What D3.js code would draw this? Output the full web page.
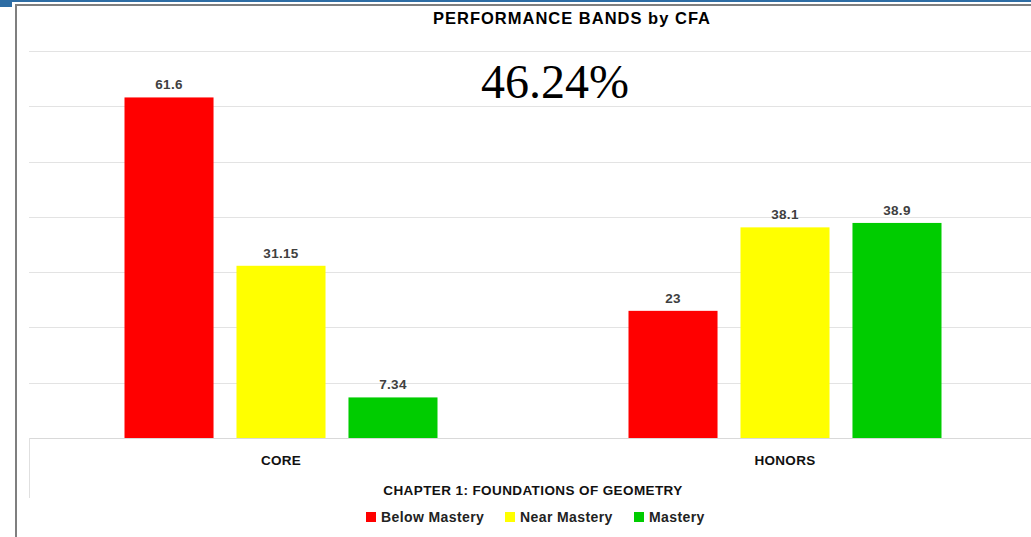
<!DOCTYPE html>
<html>
<head>
<meta charset="utf-8">
<script src="https://cdn.jsdelivr.net/npm/d3@7"></script>
<style>
  body { margin: 0; background: #fff; }
  svg { display: block; font-family: "Liberation Sans", Arial, sans-serif; }
</style>
</head>
<body>
<div id="chart"></div>
<script>
// Chart data
const categories = ["CORE", "HONORS"];
const series = ["Below Mastery", "Near Mastery", "Mastery"];
const belowMastery = [61.6, 23];
const nearMastery = [31.15, 38.1];
const mastery = [7.34, 38.9];
const yTicks = [0, 10, 20, 30, 40, 50, 60, 70];
const colors = ["#ff0000", "#ffff00", "#00cc00"];

const title = "PERFORMANCE BANDS by CFA";
const bigLabel = "46.24%";
const xTitle = "CHAPTER 1: FOUNDATIONS OF GEOMETRY";

const values = [belowMastery, nearMastery, mastery];
const data = [];
categories.forEach((c, i) => {
    series.forEach((s, j) => data.push({cat: c, series: s, value: values[j][i]}));
});

const width = 1031, height = 537;

const svg = d3.select("#chart")
    .append("svg")
    .attr("width", width)
    .attr("height", height);

// Outer frame: blue strip and grey border
svg.append("rect").attr("x", 0).attr("y", 0).attr("width", width).attr("height", 2).attr("fill", "#2e6da4");
svg.append("rect").attr("x", 0).attr("y", 0).attr("width", 12).attr("height", 7).attr("fill", "#2e6da4");
svg.append("path")
    .attr("d", `M16,${height} V5 H${width}`)
    .attr("fill", "none")
    .attr("stroke", "#7f7f7f")
    .attr("stroke-width", 2);

// Scales
const x0 = d3.scaleBand()
    .domain(categories)
    .range([29, 1037])
    .padding(0);

const x1 = d3.scaleBand()
    .domain(series)
    .range([95.5, 408.5])
    .paddingInner(0.205)
    .paddingOuter(0);

const y = d3.scaleLinear()
    .domain([0, 70])
    .range([438, 51]);

const color = d3.scaleOrdinal().domain(series).range(colors);

// Gridlines
svg.append("g")
    .selectAll("line")
    .data(yTicks)
    .enter()
    .append("line")
    .attr("x1", 29).attr("x2", width)
    .attr("y1", d => Math.round(y(d)) + 0.5).attr("y2", d => Math.round(y(d)) + 0.5)
    .attr("stroke", d => d === 0 ? "#d9d9d9" : "#e3e3e3")
    .attr("stroke-width", 1);

// Category axis left edge
svg.append("line")
    .attr("x1", 29.5).attr("x2", 29.5)
    .attr("y1", 438).attr("y2", 498)
    .attr("stroke", "#e0e0e0");

// Bars
svg.selectAll(".bar")
    .data(data)
    .enter()
    .append("rect")
    .attr("class", "bar")
    .attr("x", d => x0(d.cat) + x1(d.series))
    .attr("y", d => y(d.value))
    .attr("width", x1.bandwidth())
    .attr("height", d => y(0) - y(d.value))
    .attr("fill", d => color(d.series));

// Value labels
svg.selectAll(".val")
    .data(data)
    .enter()
    .append("text")
    .attr("class", "val")
    .attr("x", d => x0(d.cat) + x1(d.series) + x1.bandwidth() / 2)
    .attr("y", d => y(d.value) - 8)
    .attr("text-anchor", "middle")
    .attr("font-size", 13.5)
    .attr("font-weight", "bold")
    .attr("letter-spacing", 0.3)
    .attr("fill", "#404040")
    .text(d => d.value);

// Category labels
svg.selectAll(".cat")
    .data(categories)
    .enter()
    .append("text")
    .attr("x", d => x0(d) + x0.bandwidth() / 2)
    .attr("y", 465)
    .attr("text-anchor", "middle")
    .attr("font-size", 13.5)
    .attr("font-weight", "bold")
    .attr("letter-spacing", 0.3)
    .attr("fill", "#111")
    .text(d => d);

// Title
svg.append("text")
    .attr("x", 572)
    .attr("y", 24)
    .attr("text-anchor", "middle")
    .attr("font-size", 16.5)
    .attr("font-weight", "bold")
    .attr("letter-spacing", 1)
    .attr("fill", "#000")
    .text(title);

// Big percentage
svg.append("text")
    .attr("x", 555)
    .attr("y", 98)
    .attr("text-anchor", "middle")
    .attr("font-family", "'Liberation Serif', 'Times New Roman', serif")
    .attr("font-size", 48)
    .attr("fill", "#000")
    .text(bigLabel);

// X axis title
svg.append("text")
    .attr("x", 533)
    .attr("y", 495)
    .attr("text-anchor", "middle")
    .attr("font-size", 13.5)
    .attr("font-weight", "bold")
    .attr("letter-spacing", 0.4)
    .attr("fill", "#111")
    .text(xTitle);

// Legend
const legend = svg.append("g");
const legendX = [366, 505, 634];
series.forEach((s, i) => {
    legend.append("rect")
        .attr("x", legendX[i]).attr("y", 512)
        .attr("width", 10).attr("height", 10)
        .attr("fill", color(s));
    legend.append("text")
        .attr("x", legendX[i] + 15).attr("y", 522)
        .attr("font-size", 14)
        .attr("font-weight", "bold")
        .attr("letter-spacing", 0.4)
        .attr("fill", "#222")
        .text(s);
});
</script>
</body>
</html>
